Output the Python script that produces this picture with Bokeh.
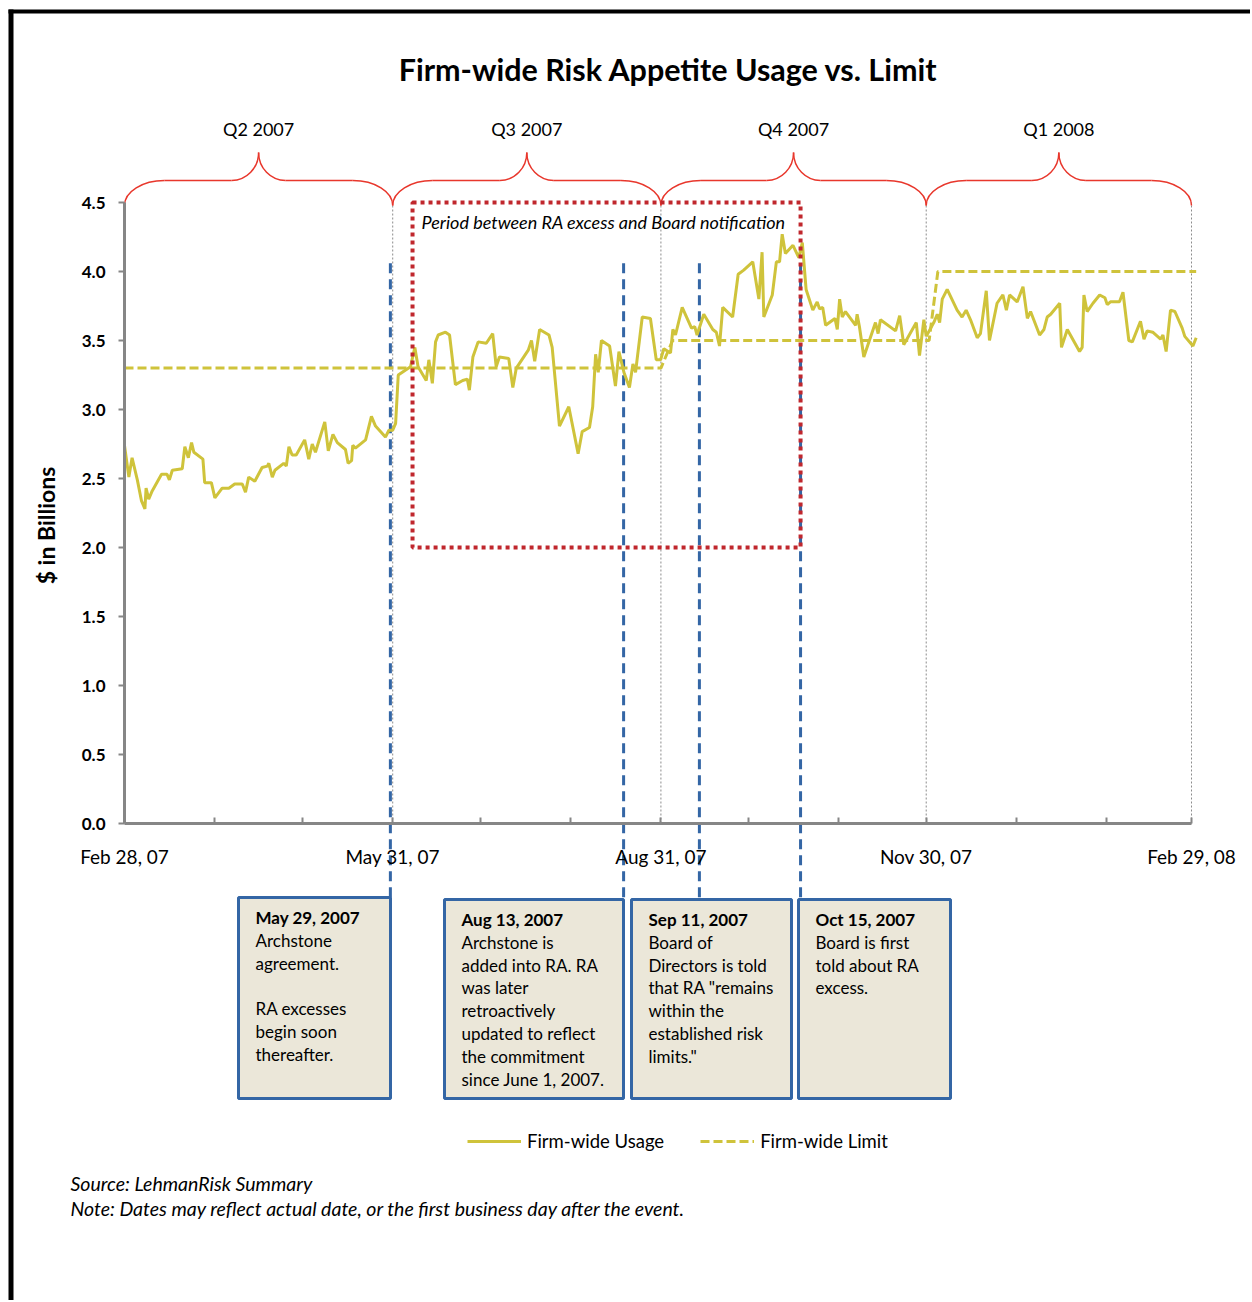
import math
from bokeh.plotting import figure
from bokeh.models import (ColumnDataSource, FixedTicker, Legend, LegendItem,
                          BoxAnnotation, Range1d, NumeralTickFormatter)
from bokeh.core.properties import value
from bokeh.embed import file_html
from bokeh.resources import INLINE

# ---------------- data (x = days since Feb 28, 2007; y = $ billions) ----------------
usage_day = [0.0, 1.5, 2.6, 4.4, 5.8, 7.0, 7.4, 8.3, 9.5, 12.7, 14.6, 15.4, 16.4, 19.8,
             20.7, 21.9, 23.0, 23.8, 26.9, 27.5, 29.8, 31.0, 33.5, 35.8, 37.8, 40.4,
             41.5, 42.6, 44.7, 47.2, 49.0, 49.5, 50.7, 51.6, 54.6, 55.5, 56.4, 57.5,
             58.9, 61.8, 63.2, 64.4, 65.5, 68.7, 69.9, 71.5, 73.0, 75.8, 76.7, 77.9,
             78.3, 79.2, 82.7, 84.7, 86.1, 89.5, 90.7, 92.0, 93.0, 93.9, 98.1, 99.6,
             100.7, 103.5, 104.4, 105.6, 106.7, 107.6, 110.1, 111.5, 113.5, 116.0,
             117.6, 118.3, 119.5, 121.3, 124.1, 126.3, 127.5, 128.6, 131.8, 133.2,
             134.4, 138.5, 139.6, 140.7, 142.4, 145.6, 146.7, 149.2, 152.4, 155.6,
             157.0, 159.5, 160.6, 161.6, 162.5, 163.6, 166.4, 168.4, 169.6, 171.3,
             173.2, 174.4, 175.3, 177.6, 180.4, 182.4, 183.9, 185.0, 187.3, 188.1,
             189.0, 191.3, 194.5, 195.6, 196.4, 198.7, 201.8, 203.0, 204.1, 205.2,
             208.6, 210.5, 212.4, 215.5, 217.6, 218.7, 219.3, 222.2, 223.6, 224.7,
             225.6, 226.7, 229.3, 231.3, 232.5, 233.8, 236.1, 237.6, 238.4, 239.5,
             240.5, 243.7, 244.5, 245.3, 246.2, 247.3, 250.8, 251.3, 252.1, 253.6,
             257.6, 258.5, 259.3, 264.5, 265.9, 267.3, 271.6, 272.7, 274.2, 275.0,
             277.6, 278.8, 279.6, 280.5, 282.2, 285.6, 287.3, 288.7, 290.2, 292.5,
             293.6, 295.6, 296.7, 299.3, 301.3, 302.5, 303.6, 306.2, 308.2, 309.7,
             310.8, 313.9, 315.4, 316.5, 317.7, 320.8, 321.4, 323.4, 327.6, 328.5,
             329.1, 330.2, 332.2, 334.5, 336.3, 337.1, 338.2, 341.3, 342.5, 344.5,
             345.7, 348.5, 349.7, 350.8, 352.7, 355.4, 356.2, 357.3, 358.8, 360.3,
             362.8, 363.7, 366.5, 367.6]
usage_val = [2.74, 2.51, 2.65, 2.49, 2.34, 2.28, 2.43, 2.35, 2.41, 2.53, 2.53, 2.49, 2.56, 2.57,
             2.73, 2.65, 2.76, 2.69, 2.64, 2.47, 2.47, 2.36, 2.43, 2.43, 2.46, 2.46,
             2.40, 2.51, 2.48, 2.58, 2.59, 2.61, 2.51, 2.56, 2.61, 2.59, 2.73, 2.67,
             2.67, 2.78, 2.64, 2.75, 2.69, 2.91, 2.70, 2.82, 2.76, 2.71, 2.61, 2.63,
             2.74, 2.72, 2.78, 2.95, 2.88, 2.80, 2.85, 2.85, 2.90, 3.25, 3.31, 3.45,
             3.31, 3.21, 3.36, 3.19, 3.49, 3.54, 3.56, 3.54, 3.18, 3.21,
             3.22, 3.14, 3.38, 3.49, 3.48, 3.55, 3.31, 3.38, 3.37, 3.16,
             3.30, 3.43, 3.50, 3.35, 3.58, 3.54, 3.45, 2.88, 3.02, 2.68,
             2.84, 2.87, 3.02, 3.40, 3.27, 3.50, 3.46, 3.17, 3.42, 3.27,
             3.16, 3.33, 3.27, 3.67, 3.66, 3.36, 3.36, 3.44, 3.41, 3.58,
             3.54, 3.74, 3.59, 3.60, 3.54, 3.69, 3.58, 3.56, 3.46, 3.74,
             3.67, 3.98, 4.01, 4.07, 3.80, 4.14, 3.67, 3.83, 4.07, 4.07,
             4.27, 4.13, 4.19, 4.10, 4.21, 3.87, 3.72, 3.78, 3.73, 3.74,
             3.61, 3.66, 3.58, 3.80, 3.67, 3.71, 3.61, 3.69, 3.60, 3.38,
             3.63, 3.55, 3.65, 3.57, 3.68, 3.47, 3.63, 3.39, 3.65, 3.53,
             3.63, 3.69, 3.63, 3.80, 3.87, 3.72, 3.67, 3.72, 3.65, 3.52,
             3.55, 3.86, 3.50, 3.77, 3.83, 3.72, 3.83, 3.78, 3.89, 3.66,
             3.71, 3.54, 3.58, 3.67, 3.69, 3.77, 3.45, 3.58, 3.42, 3.45,
             3.83, 3.71, 3.77, 3.83, 3.81, 3.76, 3.78, 3.78, 3.85, 3.50,
             3.49, 3.64, 3.51, 3.57, 3.56, 3.51, 3.54, 3.42, 3.72, 3.71,
             3.59, 3.53, 3.46, 3.52]
limit_day = [0, 184, 188, 276, 279, 367.6]
limit_val = [3.30, 3.30, 3.50, 3.50, 4.00, 4.00]

month_end_days = [0, 31, 61, 92, 122, 153, 184, 214, 245, 275, 306, 337, 366]
quarter_end_days = [0, 92, 184, 275, 366]
quarter_end_labels = ["Feb 28, 07", "May 31, 07", "Aug 31, 07", "Nov 30, 07", "Feb 29, 08"]
quarter_names = ["Q2 2007", "Q3 2007", "Q4 2007", "Q1 2008"]
y_ticks = [0.0, 0.5, 1.0, 1.5, 2.0, 2.5, 3.0, 3.5, 4.0, 4.5]

event_days = [91.2, 171.2, 197.2, 231.9]
event_dates = ["May 29, 2007", "Aug 13, 2007", "Sep 11, 2007", "Oct 15, 2007"]
event_notes = [
    ["Archstone", "agreement.", "", "RA excesses", "begin soon", "thereafter."],
    ["Archstone  is", "added into RA.  RA", "was later", "retroactively",
     "updated to reflect", "the commitment", "since June 1, 2007."],
    ["Board of", "Directors is told", "that RA \"remains", "within the",
     "established risk", "limits.\""],
    ["Board is first", "told about  RA", "excess."],
]
ra_period_days = (98.8, 231.9)
ra_period_band = (2.0, 4.5)

# ---------------- layout / style ----------------
W, H = 1250, 1300
DAY0_PX = 124.0                 # canvas x of day 0
PX_PER_DAY = 1067.0 / 366.0
ZERO_PX = 823.0                 # canvas y of $0
PX_PER_BN = 138.0
X0, X1 = -DAY0_PX / PX_PER_DAY, (W - DAY0_PX) / PX_PER_DAY
Y0, Y1 = -(H - ZERO_PX) / PX_PER_BN, ZERO_PX / PX_PER_BN


def dx(px):   # canvas x -> data x (annotation placement)
    return (px - DAY0_PX) / PX_PER_DAY


def vy(py):   # canvas y -> data y (annotation placement)
    return (ZERO_PX - py) / PX_PER_BN


FONT = "Lato"
OLIVE = "#CFC33B"
BLUE = "#3466A5"
RED_DOT = "#C0272D"
BRACE_RED = "#E8372C"
AXIS_GREY = "#868686"
BOX_FILL = "#EBE7D9"

box_px = [(238, 390, 897), (444, 623, 899), (631, 791, 899), (798, 950, 899)]
box_bottom_px = 1098
box_left = [dx(b[0]) for b in box_px]
box_right = [dx(b[1]) for b in box_px]
box_top = [vy(b[2]) for b in box_px]
box_bottom = vy(box_bottom_px)
event_line_top = 4.06

p = figure(width=W, height=H, output_backend="svg", toolbar_location=None,
           x_range=Range1d(X0, X1), y_range=Range1d(Y0, Y1),
           min_border=0, min_border_left=0, min_border_right=0,
           min_border_top=0, min_border_bottom=0, title_location=None)
p.outline_line_color = None
p.xgrid.visible = False
p.ygrid.visible = False
p.background_fill_color = "white"
p.border_fill_color = "white"

# y axis
ya = p.yaxis[0]
ya.fixed_location = 0
ya.bounds = (0, 4.5)
ya.ticker = FixedTicker(ticks=y_ticks)
ya.formatter = NumeralTickFormatter(format="0.0")
ya.axis_line_color = AXIS_GREY
ya.axis_line_width = 3
ya.major_tick_line_color = AXIS_GREY
ya.major_tick_line_width = 2
ya.major_tick_out = 6
ya.major_tick_in = 0
ya.minor_tick_line_color = None
ya.major_label_text_font = FONT
ya.major_label_text_font_style = "bold"
ya.major_label_text_font_size = "17px"
ya.major_label_text_color = "black"
ya.major_label_standoff = 13

# x axis
xa = p.xaxis[0]
xa.fixed_location = 0
xa.bounds = (0, 366)
xa.ticker = FixedTicker(ticks=month_end_days)
overrides = {d: "" for d in month_end_days}
for d, lab in zip(quarter_end_days, quarter_end_labels):
    overrides[d] = lab
xa.major_label_overrides = overrides
xa.axis_line_color = AXIS_GREY
xa.axis_line_width = 3
xa.major_tick_line_color = AXIS_GREY
xa.major_tick_line_width = 2
xa.major_tick_in = 6
xa.major_tick_out = 0
xa.minor_tick_line_color = None
xa.major_label_text_font = FONT
xa.major_label_text_font_size = "19px"
xa.major_label_text_color = "black"
xa.major_label_standoff = 21

# title and y-axis title
p.text(x=[dx(668)], y=[vy(68)], text=["Firm-wide Risk Appetite Usage vs. Limit"],
       text_font=value(FONT), text_font_size="30.5px", text_font_style="bold",
       text_align="center", text_baseline="middle", text_color="black")
p.text(x=[dx(45)], y=[vy(525)], text=["$ in Billions"], angle=math.pi / 2,
       text_font=value(FONT), text_font_size="23px", text_font_style="bold",
       text_align="center", text_baseline="middle", text_color="black")

# quarter boundary dotted lines
qb = quarter_end_days[1:]
p.segment(x0=qb, y0=[0] * len(qb), x1=qb, y1=[4.5] * len(qb),
          line_color="#8C8C8C", line_width=1, line_dash="2 2")

# braces over quarters
k = 0.5523
yE, yH, yC = vy(205), vy(180), vy(152)
r1, r2 = 40 / PX_PER_DAY, 27 / PX_PER_DAY
bz = {n: [] for n in ["x0", "y0", "x1", "y1", "cx0", "cy0", "cx1", "cy1"]}
hs = {n: [] for n in ["x0", "y0", "x1", "y1"]}


def add_bz(x0, y0, x1, y1, cx0, cy0, cx1, cy1):
    for n, v in zip(["x0", "y0", "x1", "y1", "cx0", "cy0", "cx1", "cy1"],
                    [x0, y0, x1, y1, cx0, cy0, cx1, cy1]):
        bz[n].append(v)


quarter_mids = []
for a, b in zip(quarter_end_days[:-1], quarter_end_days[1:]):
    m = (a + b) / 2
    quarter_mids.append(m)
    add_bz(a, yE, a + r1, yH, a, yE + k * (yH - yE), a + r1 - k * r1, yH)
    add_bz(m - r2, yH, m, yC, m - r2 + k * r2, yH, m, yC - k * (yC - yH))
    add_bz(m, yC, m + r2, yH, m, yC - k * (yC - yH), m + r2 - k * r2, yH)
    add_bz(b - r1, yH, b, yE, b - r1 + k * r1, yH, b, yE + k * (yH - yE))
    for x0_, x1_ in [(a + r1, m - r2), (m + r2, b - r1)]:
        hs["x0"].append(x0_); hs["x1"].append(x1_)
        hs["y0"].append(yH); hs["y1"].append(yH)
p.bezier(source=ColumnDataSource(bz), x0="x0", y0="y0", x1="x1", y1="y1",
         cx0="cx0", cy0="cy0", cx1="cx1", cy1="cy1",
         line_color=BRACE_RED, line_width=1.5)
p.segment(source=ColumnDataSource(hs), x0="x0", y0="y0", x1="x1", y1="y1",
          line_color=BRACE_RED, line_width=1.5)
p.text(x=quarter_mids, y=[vy(128)] * 4, text=quarter_names,
       text_font=value(FONT), text_font_size="18px", text_align="center",
       text_baseline="middle", text_color="black")

# event boxes
p.quad(left=box_left, right=box_right, top=box_top, bottom=[box_bottom] * 4,
       fill_color=BOX_FILL, line_color=BLUE, line_width=3)

# event dashed lines
p.segment(x0=event_days, y0=[event_line_top] * 4, x1=event_days, y1=box_top,
          line_color=BLUE, line_width=3, line_dash="10 6")

# limit & usage
r_lim = p.line(limit_day, limit_val, line_color=OLIVE, line_width=3, line_dash="9 4")
r_use = p.line(usage_day, usage_val, line_color=OLIVE, line_width=3)

# RA excess period
p.quad(left=[ra_period_days[0]], right=[ra_period_days[1]],
       bottom=[ra_period_band[0]], top=[ra_period_band[1]],
       fill_color=None, line_color=RED_DOT, line_width=4, line_dash="4 4")
p.text(x=[ra_period_days[0] + 9 / PX_PER_DAY], y=[ra_period_band[1] - 19 / PX_PER_BN],
       text=["Period between RA excess and Board notification"],
       text_font=value(FONT), text_font_size="18px", text_font_style="italic",
       text_baseline="middle", text_align="left", text_color="black")

# box texts
tt = dict(x=[], y=[], t=[])
bt = dict(x=[], y=[], t=[])
LINE = 22.8
for i in range(4):
    tx = box_left[i] + 17 / PX_PER_DAY
    tt["x"].append(tx)
    tt["y"].append(box_top[i] - 20 / PX_PER_BN)
    tt["t"].append(event_dates[i])
    for j, line in enumerate(event_notes[i]):
        if not line:
            continue
        bt["x"].append(tx)
        bt["y"].append(box_top[i] - (20 + LINE * (j + 1)) / PX_PER_BN)
        bt["t"].append(line)
p.text(source=ColumnDataSource(tt), x="x", y="y", text="t",
       text_font=value(FONT), text_font_size="17px", text_font_style="bold",
       text_baseline="middle", text_align="left", text_color="black")
p.text(source=ColumnDataSource(bt), x="x", y="y", text="t",
       text_font=value(FONT), text_font_size="17px",
       text_baseline="middle", text_align="left", text_color="black")

# legend
legend = Legend(items=[LegendItem(label="Firm-wide Usage", renderers=[r_use]),
                       LegendItem(label="Firm-wide Limit", renderers=[r_lim])],
                orientation="horizontal", location=(467, 148),
                border_line_color=None, background_fill_alpha=0,
                padding=0, spacing=36, glyph_width=54, glyph_height=20,
                label_standoff=6, label_text_font=FONT,
                label_text_font_size="18.5px", label_text_color="black")
p.add_layout(legend)

# source notes
p.text(x=[dx(70)] * 2, y=[vy(1183), vy(1208)],
       text=["Source: LehmanRisk Summary",
             "Note: Dates may reflect  actual date, or the first  business day after the event."],
       text_font=value(FONT), text_font_size="19.5px", text_font_style="italic",
       text_baseline="middle", text_align="left", text_color="black")

# black frame on the left and top
for kw in (dict(left=8, right=13, top=9, bottom=H), dict(left=8, right=W, top=9, bottom=13)):
    p.add_layout(BoxAnnotation(**kw, left_units="canvas", right_units="canvas",
                               top_units="canvas", bottom_units="canvas",
                               fill_color="black", fill_alpha=1, line_color=None,
                               level="overlay"))

open("out.html", "w").write(file_html(p, INLINE))
